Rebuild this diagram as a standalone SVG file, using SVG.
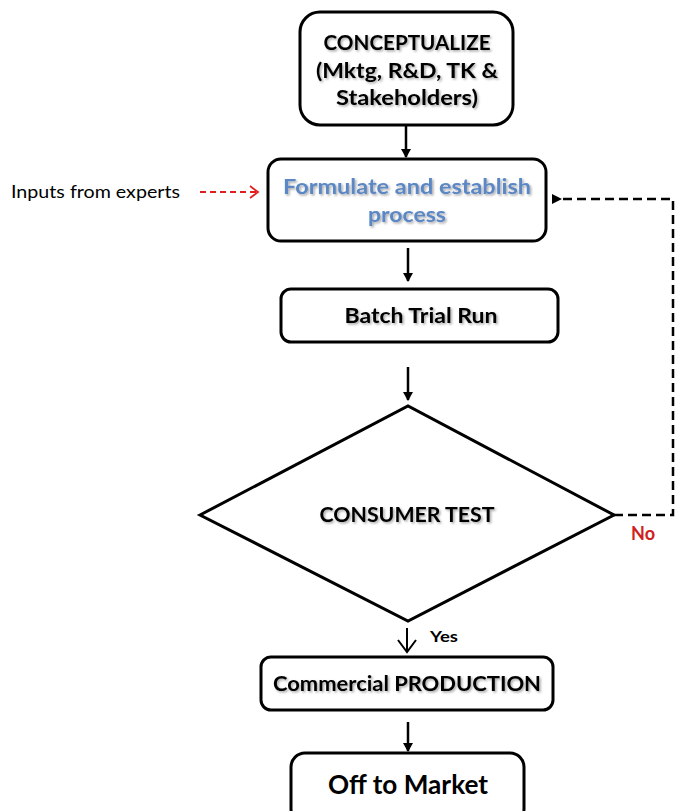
<svg xmlns="http://www.w3.org/2000/svg" width="675" height="811" viewBox="0 0 675 811">
<defs>
<style>
.box{fill:#fff;stroke:#000;stroke-width:3}
.t{font-family:Lato,"Open Sans","Liberation Sans",sans-serif;font-weight:bold;fill:#000;text-anchor:middle}
.sh{filter:url(#shadow)}
.ln{stroke:#000;stroke-width:2.5;fill:none}
</style>
<filter id="shadow" x="-10%" y="-30%" width="120%" height="160%">
<feDropShadow dx="1.5" dy="1.5" stdDeviation="1" flood-color="#000" flood-opacity="0.35"/>
</filter>
<marker id="ah" markerWidth="10" markerHeight="10" refX="8" refY="5" orient="auto" markerUnits="userSpaceOnUse">
<path d="M0,0 L9,5 L0,10 Z" fill="#000"/>
</marker>
<marker id="ahd" markerWidth="12" markerHeight="10" refX="2" refY="5" orient="auto" markerUnits="userSpaceOnUse">
<path d="M10,0 L0,5 L10,10 Z" fill="#000"/>
</marker>
<marker id="ahr" markerWidth="12" markerHeight="14" refX="10" refY="7" orient="auto" markerUnits="userSpaceOnUse">
<path d="M2,1 L10,7 L2,13" fill="none" stroke="#e02020" stroke-width="1.8"/>
</marker>
</defs>
<rect width="675" height="811" fill="#fff"/>
<g id="connectors">
<line class="ln" x1="406" y1="125" x2="406" y2="157" marker-end="url(#ah)"/>
<line class="ln" x1="408" y1="248" x2="408" y2="281" marker-end="url(#ah)"/>
<line class="ln" x1="408" y1="367" x2="408" y2="400" marker-end="url(#ah)"/>
<path d="M407,628 L407,652" stroke="#000" stroke-width="2" fill="none"/>
<path d="M398,640 L407,652 L416,640" stroke="#000" stroke-width="2" fill="none"/>
<line class="ln" x1="408" y1="722" x2="408" y2="751" marker-end="url(#ah)"/>
<path d="M614,515 L673,515 L673,199 L560,199" stroke="#000" stroke-width="2.5" fill="none" stroke-dasharray="9,5" marker-end="url(#ahd)"/>
<line x1="200" y1="192" x2="258" y2="192" stroke="#e02020" stroke-width="1.8" stroke-dasharray="6,4" marker-end="url(#ahr)"/>
</g>
<g id="conceptualize">
<rect class="box" x="300" y="12" width="213" height="113" rx="20"/>
<text class="t sh" x="407" y="50" font-size="21" textLength="167" lengthAdjust="spacingAndGlyphs">CONCEPTUALIZE</text>
<text class="t sh" x="407" y="78" font-size="21" textLength="182" lengthAdjust="spacingAndGlyphs">(Mktg, R&amp;D, TK &amp;</text>
<text class="t sh" x="407" y="105" font-size="21" textLength="142" lengthAdjust="spacingAndGlyphs">Stakeholders)</text>
</g>
<g id="inputs">
<text x="11" y="198" font-family="Lato,'Open Sans','Liberation Sans',sans-serif" font-size="17.5" fill="#000" textLength="169" lengthAdjust="spacingAndGlyphs">Inputs from experts</text>
</g>
<g id="formulate">
<rect class="box" x="268" y="159" width="278" height="82" rx="13"/>
<text class="t sh" x="407" y="194" font-size="21" style="fill:#5b87c5" textLength="248" lengthAdjust="spacingAndGlyphs">Formulate and establish</text>
<text class="t sh" x="407" y="222" font-size="21" style="fill:#5b87c5" textLength="78" lengthAdjust="spacingAndGlyphs">process</text>
</g>
<g id="batch">
<rect class="box" x="281" y="289" width="277" height="53" rx="10" stroke-width="2.5"/>
<text class="t sh" x="421" y="323" font-size="21" textLength="153" lengthAdjust="spacingAndGlyphs">Batch Trial Run</text>
</g>
<g id="consumer">
<polygon class="box" points="200,515 408,406 614,515 408,621"/>
<text class="t sh" x="407" y="522" font-size="20" textLength="175" lengthAdjust="spacingAndGlyphs">CONSUMER TEST</text>
</g>
<g id="labels">
<text class="t" x="444" y="642" font-size="16" textLength="28" lengthAdjust="spacingAndGlyphs">Yes</text>
<text class="t" x="643" y="540" font-size="18" style="fill:#d02020" textLength="24" lengthAdjust="spacingAndGlyphs">No</text>
</g>
<g id="commercial">
<rect class="box" x="261" y="657" width="292" height="53" rx="10" stroke-width="2"/>
<text class="t sh" x="407" y="691" font-size="21" textLength="268" lengthAdjust="spacingAndGlyphs">Commercial PRODUCTION</text>
</g>
<g id="market">
<rect class="box" x="291" y="753" width="233" height="70" rx="14"/>
<text class="t" x="408" y="794" font-size="26" textLength="160" lengthAdjust="spacingAndGlyphs">Off to Market</text>
</g>
</svg>
